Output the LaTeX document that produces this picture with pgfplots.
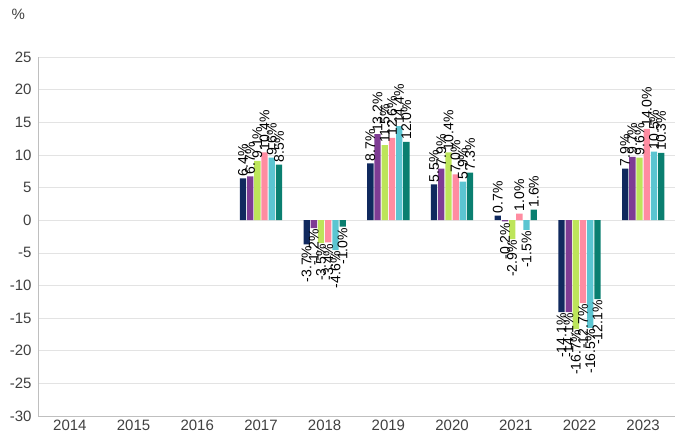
\documentclass[border=0pt]{standalone}
\usepackage{pgfplots}
\pgfplotsset{compat=1.18}
\usepackage{fontspec}
\setmainfont{Liberation Sans}
\definecolor{cnavy}{HTML}{10295E}
\definecolor{cpurple}{HTML}{7E3C94}
\definecolor{clime}{HTML}{BDE55A}
\definecolor{cpink}{HTML}{FF8CA1}
\definecolor{ccyan}{HTML}{5BC5D1}
\definecolor{cteal}{HTML}{0A7F70}
\definecolor{axisgray}{HTML}{BFBFBF}
\definecolor{gridgray}{HTML}{E3E3E3}
\definecolor{labelgray}{HTML}{404040}
\newcommand{\lbl}{\pgfmathprintnumber[fixed,fixed zerofill,precision=1,assume math mode=true]{\rawy}\%}
\begin{document}
\begin{tikzpicture}
\begin{axis}[name=ax,
  width=637pt, height=359pt, scale only axis,
  xmin=-0.5, xmax=9.5, ymin=-30, ymax=25,
  ytick={-30,-25,-20,-15,-10,-5,0,5,10,15,20,25},
  xtick={0,1,2,3,4,5,6,7,8,9},
  xticklabels={2014,2015,2016,2017,2018,2019,2020,2021,2022,2023},
  ybar=0.9pt, bar width=6.3pt,
  axis x line*=bottom, axis y line*=left,
  axis line style={draw=axisgray, line width=0.8pt},
  major tick length=0pt,
  ymajorgrids, grid style={draw=gridgray, line width=0.6pt},
  tick label style={font=\fontsize{15}{15}\selectfont, text=labelgray},
  /pgf/number format/assume math mode=true,
  yticklabel style={xshift=-3pt},
  visualization depends on={rawy \as \rawy},
  nodes near coords={\ifdim\rawy pt<0pt\makebox[0pt][r]{\lbl\hspace{2pt}}\else\hspace{2pt}\lbl\fi},
  every node near coord/.append style={rotate=90, anchor=west, inner sep=0pt, font=\fontsize{14}{14}\selectfont, text=black},
]
\addplot[fill=cnavy, draw=none] coordinates {(3,6.4) (4,-3.7) (5,8.7) (6,5.5) (7,0.7) (8,-14.1) (9,7.9)};
\addplot[fill=cpurple, draw=none] coordinates {(3,6.7) (4,-1.2) (5,13.2) (6,7.9) (7,-0.2) (8,-14.1) (9,9.7)};
\addplot[fill=clime, draw=none] coordinates {(3,9.1) (4,-3.5) (5,11.5) (6,10.4) (7,-2.9) (8,-16.7) (9,9.6)};
\addplot[fill=cpink, draw=none] coordinates {(3,10.4) (4,-3.4) (5,12.6) (6,7.0) (7,1.0) (8,-12.7) (9,14.0)};
\addplot[fill=ccyan, draw=none] coordinates {(3,9.6) (4,-4.6) (5,14.4) (6,5.9) (7,-1.5) (8,-16.5) (9,10.5)};
\addplot[fill=cteal, draw=none] coordinates {(3,8.5) (4,-1.0) (5,12.0) (6,7.3) (7,1.6) (8,-12.1) (9,10.3)};
\end{axis}
\node[anchor=west, font=\fontsize{15}{15}\selectfont, text=labelgray] at ([xshift=-30pt,yshift=43pt]ax.north west) {\%};
\pgfresetboundingbox
\path[use as bounding box] ([xshift=-38pt,yshift=-20pt]ax.south west) rectangle ([yshift=57pt]ax.north east);
\end{tikzpicture}
\end{document}
